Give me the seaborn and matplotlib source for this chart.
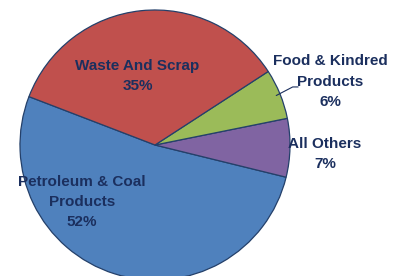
import matplotlib
matplotlib.use("Agg")
import matplotlib.pyplot as plt
import numpy as np
import seaborn as sns

# slice data, counter-clockwise from the start angle
categories = ["Petroleum & Coal\nProducts", "All Others", "Food & Kindred\nProducts", "Waste And Scrap"]
shares = [52, 7, 6, 35]
slice_colors = ["#4F81BD", "#8064A2", "#9BBB59", "#C0504D"]

sns.set_theme(style="white")
plt.rcParams['font.family'] = ['Liberation Sans', 'DejaVu Sans']

text_col = "#1B2F5E"
edge_col = "#24406A"

fig = plt.figure(figsize=(3.96, 2.76), dpi=100)
ax = fig.add_axes([0, 0, 1, 1])

wedges, _ = ax.pie(shares, colors=slice_colors, startangle=159, counterclock=True,
                   wedgeprops=dict(edgecolor=edge_col, linewidth=0.9))

# pixel-based framing: centre at (155,145) px, radius 135 px
r_px = 135.0
ax.set_xlim(-155 / r_px, (396 - 155) / r_px)
ax.set_ylim(-(276 - 145) / r_px, 145 / r_px)
ax.set_aspect('equal', adjustable='datalim')
ax.axis('off')

# label positions (data units)
label_pos = [(-0.54, -0.42), (1.26, -0.07), (1.30, 0.47), (-0.13, 0.51)]
for name, val, (lx, ly) in zip(categories, shares, label_pos):
    ax.text(lx, ly, f"{name}\n{val}%", ha='center', va='center', color=text_col,
            fontsize=11, fontweight='bold', linespacing=1.55)

# leader line for the small green slice
w = wedges[2]
mid = np.deg2rad((w.theta1 + w.theta2) / 2)
x0, y0 = 0.97 * np.cos(mid), 0.97 * np.sin(mid)
ax.plot([x0, 1.02, 1.06], [y0, 0.43, 0.43], color=text_col, lw=0.8)

fig.savefig("out.png", dpi=100, facecolor="white")
